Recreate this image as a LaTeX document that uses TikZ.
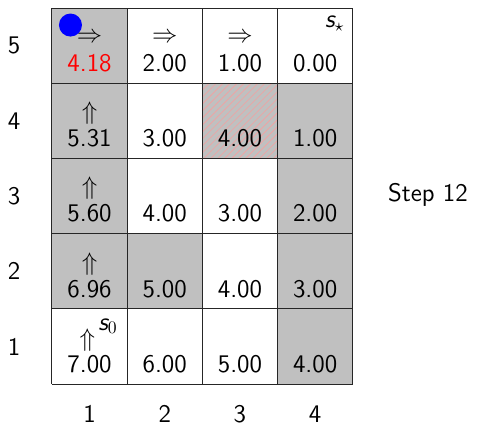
\documentclass[tikz,border=0pt]{standalone}
\usepackage{amsmath,amssymb}
\usepackage{xcolor}
\usetikzlibrary{patterns,patterns.meta,positioning}
\definecolor{cellgray}{RGB}{192,192,192}
\definecolor{hatchred}{RGB}{245,160,160}
\definecolor{agent}{RGB}{0,0,255}

\begin{document}
\begin{tikzpicture}[x=1.5cm,y=1.5cm,font=\sffamily\Large]
        \useasboundingbox (-0.691,-0.638) rectangle (5.679,5.107);
        % Celdas bloqueadas / visitadas
        \foreach \c/\r in {1/5,1/4,1/3,1/2,2/2,4/4,4/3,4/2,4/1,3/4}{
          \fill[cellgray] (\c-1,\r-1) rectangle ++(1,1);
        }
        \fill[pattern={Lines[angle=45,distance=2.8pt,line width=0.35pt]},pattern color=hatchred] (2,3) rectangle (3,4);
        \draw[step=1.5cm,line width=0.6pt,black!85] (0,0) grid (4,5);
        % Valores de cada celda
        \foreach \r/\vals in {5/{4.18,2.00,1.00,0.00},4/{5.31,3.00,4.00,1.00},
                              3/{5.60,4.00,3.00,2.00},2/{6.96,5.00,4.00,3.00},
                              1/{7.00,6.00,5.00,4.00}}{
          \foreach \v [count=\c] in \vals{
            \ifnum\c=1 \ifnum\r=5
              \node[red] (v-\c-\r) at (\c-0.5,\r-0.733) {\v};
            \else
              \node (v-\c-\r) at (\c-0.5,\r-0.733) {\v};
            \fi\else
              \node (v-\c-\r) at (\c-0.5,\r-0.733) {\v};
            \fi
          }
        }
        % Politica
        \foreach \c in {1,2,3}
          \node (a-\c-5) at (\c-0.5,4.6) {$\Rightarrow$};
        \foreach \r in {2,3,4}
          \node (a-1-\r) at (0.5,\r-0.4) {$\Uparrow$};
        \node (a-1-1) at (0.47,0.585) {$\Uparrow$};
        \node[inner sep=0pt] (s0) at (0.745,0.77) {\itshape s$_0$};
        \node[inner sep=0pt] (sstar) at (3.76,4.79) {\itshape s$_\star$};
        \fill[agent] (0.246,4.774) circle (0.153);
        % Ejes
        \foreach \r in {1,...,5}
          \node (row-\r) at (-0.505,\r-0.5) {\r};
        \foreach \c in {1,...,4}
          \node (col-\c) at (\c-0.5,-0.4) {\c};
        \node (step) at (5.0,2.51) {Step 12};
      \end{tikzpicture}
\end{document}
